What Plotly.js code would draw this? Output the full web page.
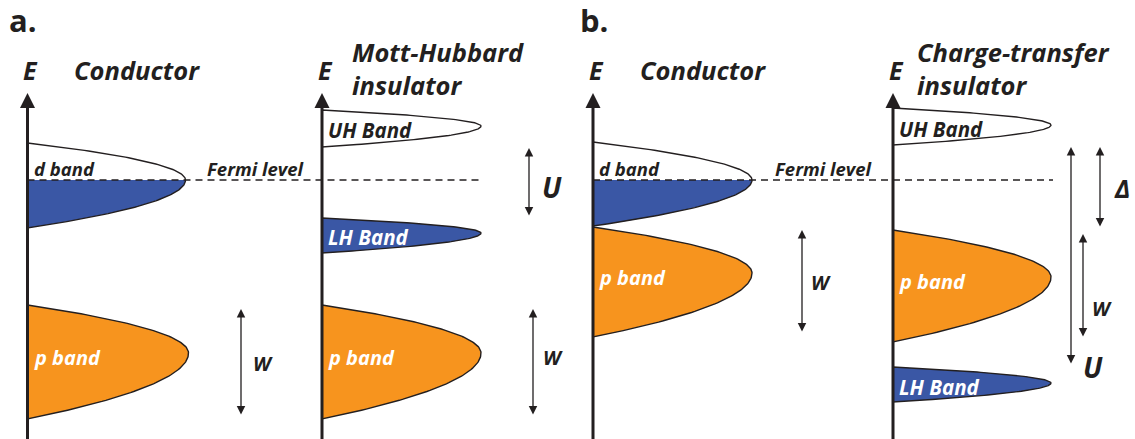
<!DOCTYPE html>
<html>
<head>
<meta charset="utf-8">
<script src="https://cdn.plot.ly/plotly-3.0.1.min.js"></script>
<style>html,body{margin:0;padding:0;background:#fff;}#chart{width:1135px;height:439px;}</style>
</head>
<body>
<div id="chart"></div>
<script>
// ---------- data (energy in arbitrary units, Fermi level = 0; width = density of states) ----------
const panelLetters = ['a.', 'b.'];
const columnTitles = ['Conductor', 'Mott-Hubbard<br>insulator', 'Conductor', 'Charge-transfer<br>insulator'];
const fermiLevel = 0;

const bandColumn = [0, 0, 1, 1, 1, 2, 2, 3, 3, 3];
const bandNames  = ['d band', 'p band', 'UH Band', 'LH Band', 'p band', 'd band', 'p band', 'UH Band', 'p band', 'LH Band'];
const bandTop    = [3.7, -12.5, 7.0, -3.8, -12.5, 3.8, -4.7, 7.2, -5.0, -18.7];
const bandPeak   = [0.0, -17.3, 5.4, -5.3, -17.3, 0.0, -9.3, 5.5, -9.7, -20.3];
const bandBottom = [-4.8, -23.9, 3.3, -7.3, -23.9, -4.6, -15.7, 3.5, -16.2, -22.2];
const bandWidth  = [15.8, 16.1, 15.9, 15.9, 15.9, 15.9, 15.9, 15.8, 15.8, 15.8];
const bandKind   = ['split', 'filled-p', 'empty', 'filled', 'filled-p', 'split', 'filled-p', 'empty', 'filled-p', 'filled'];

const gapColumn = [0, 1, 1, 2, 3, 3, 3];
const gapNames  = ['W', 'U', 'W', 'W', 'Δ', 'U', 'W'];
const gapTop    = [-12.9, 3.2, -12.9, -5.0, 3.3, 3.3, -5.4];
const gapBottom = [-23.6, -3.7, -23.6, -15.3, -4.8, -18.5, -15.8];

// ---------- layout constants (styles / placement) ----------
const columnX = [2.75, 32.2, 59.3, 89.3];
const titleDX = [4.4, 2.8, 4.5, 2.2];
const gapX    = [24.1, 52.9, 53.3, 80.2, 110.0, 107.1, 108.3];
const gapLabelDX = [2.2, 2.3, 2.0, 1.9, 2.2, 2.2, 1.9];
const gapLabelE  = [-18.3, -0.7, -17.7, -10.2, -0.8, -18.7, -12.8];
const gapLabelSize = [20, 28, 20, 20, 25, 28, 20];

const INK = '#231f20';
const BLUE = '#3a57a5';
const ORANGE = '#f7941e';
const FONT = '"Open Sans", "DejaVu Sans", sans-serif';

function halfCurve(peak, end, w, x0, n) {
  const xs = [], ys = [];
  for (let i = 0; i <= n; i++) {
    const s = i / n;
    xs.push(x0 + w * (1 - s * s));
    ys.push(peak + (end - peak) * s);
  }
  return {xs, ys};
}
function bandOutline(k) {
  const x0 = columnX[bandColumn[k]];
  const up = halfCurve(bandPeak[k], bandTop[k], bandWidth[k], x0, 60);
  const dn = halfCurve(bandPeak[k], bandBottom[k], bandWidth[k], x0, 60);
  const xs = up.xs.slice().reverse().concat(dn.xs.slice(1));
  const ys = up.ys.slice().reverse().concat(dn.ys.slice(1));
  return {xs, ys, x0};
}

const traces = [];
const annotations = [];

bandNames.forEach((name, k) => {
  const o = bandOutline(k);
  const kind = bandKind[k];
  let fill = '#ffffff';
  if (kind === 'filled') fill = BLUE;
  if (kind === 'filled-p') fill = ORANGE;
  if (kind === 'split') {
    const up = halfCurve(bandPeak[k], bandTop[k], bandWidth[k], o.x0, 60);
    traces.push({
      x: [o.x0].concat(up.xs).concat([o.x0]),
      y: [fermiLevel].concat(up.ys).concat([fermiLevel]),
      mode: 'lines', fill: 'toself', fillcolor: '#ffffff',
      line: {width: 0}, hoverinfo: 'skip', showlegend: false
    });
    const dn = halfCurve(bandPeak[k], bandBottom[k], bandWidth[k], o.x0, 60);
    traces.push({
      x: [o.x0].concat(dn.xs).concat([o.x0]),
      y: [fermiLevel].concat(dn.ys).concat([fermiLevel]),
      mode: 'lines', fill: 'toself', fillcolor: BLUE,
      line: {width: 0, color: BLUE}, hoverinfo: 'skip', showlegend: false
    });
  }
  traces.push({
    x: o.xs.concat([o.x0, o.xs[0]]),
    y: o.ys.concat([o.ys[o.ys.length - 1], o.ys[0]]),
    mode: 'lines', fill: kind === 'split' ? 'none' : 'toself', fillcolor: fill,
    line: {width: 1.4, color: INK}, hoverinfo: 'skip', showlegend: false
  });
  const white = kind === 'filled' || kind === 'filled-p';
  let size = 18.5;
  if (kind === 'filled-p') size = 20;
  if (kind === 'filled' || kind === 'empty') size = 20.5;
  annotations.push({
    x: o.x0 + 0.4, y: kind === 'split' ? fermiLevel + 1.2 : bandPeak[k] - 0.4,
    xref: 'x', yref: 'y', xanchor: 'left', yanchor: 'middle', showarrow: false,
    text: '<b><i>' + name + '</i></b>',
    font: {family: FONT, size: size, color: white ? '#ffffff' : INK}
  });
});

// Fermi level dashed lines (one per panel)
[[0, 1], [2, 3]].forEach((pair, p) => {
  const xEnd = columnX[pair[1]] + 16.0;
  traces.push({
    x: [columnX[pair[0]], xEnd], y: [fermiLevel, fermiLevel],
    mode: 'lines', line: {width: 1.3, color: INK, dash: '7px,5px'},
    hoverinfo: 'skip', showlegend: false
  });
  annotations.push({
    x: (columnX[pair[0]] + 15.8 + columnX[pair[1]]) / 2 + 0.2, y: fermiLevel + 1.2,
    xref: 'x', yref: 'y', xanchor: 'center', yanchor: 'middle', showarrow: false,
    text: '<b><i>Fermi level</i></b>', font: {family: FONT, size: 18.5, color: INK}
  });
  annotations.push({
    x: p === 0 ? 0.7 : 57.8, y: 16.0, xref: 'x', yref: 'y', xanchor: 'left', yanchor: 'middle',
    showarrow: false, text: '<b>' + panelLetters[p] + '</b>',
    font: {family: FONT, size: 31, color: INK}
  });
});

// energy axes with arrow heads, E labels and column titles
columnTitles.forEach((t, c) => {
  annotations.push({
    x: columnX[c], y: 8.7, ax: columnX[c], ay: -26.5,
    xref: 'x', yref: 'y', axref: 'x', ayref: 'y',
    showarrow: true, arrowhead: 2, arrowsize: 1.0, arrowwidth: 3, arrowcolor: INK, text: ''
  });
  annotations.push({
    x: columnX[c] + 0.3, y: 11.0, xref: 'x', yref: 'y', xanchor: 'center', yanchor: 'middle',
    showarrow: false, text: '<b><i>E</i></b>', font: {family: FONT, size: 25, color: INK}
  });
  const twoLines = t.indexOf('<br>') >= 0;
  annotations.push({
    x: columnX[c] + titleDX[c], y: twoLines ? 11.2 : 11.0, xref: 'x', yref: 'y',
    xanchor: 'left', yanchor: 'middle', align: 'left', showarrow: false,
    text: '<b><i>' + t + '</i></b>', font: {family: FONT, size: 25.5, color: INK}
  });
});

// double-headed gap arrows
gapNames.forEach((g, k) => {
  annotations.push({
    x: gapX[k], y: gapTop[k], ax: gapX[k], ay: gapBottom[k],
    xref: 'x', yref: 'y', axref: 'x', ayref: 'y',
    showarrow: true, arrowhead: 2, startarrowhead: 2, arrowside: 'end+start',
    arrowsize: 1.3, startarrowsize: 1.3, arrowwidth: 1.3, arrowcolor: INK, text: ''
  });
  annotations.push({
    x: gapX[k] + gapLabelDX[k], y: gapLabelE[k], xref: 'x', yref: 'y',
    xanchor: 'center', yanchor: 'middle', showarrow: false,
    text: '<b><i>' + g + '</i></b>', font: {family: FONT, size: gapLabelSize[k], color: INK}
  });
});

const layout = {
  width: 1135, height: 439,
  margin: {l: 0, r: 0, t: 0, b: 0},
  paper_bgcolor: '#ffffff', plot_bgcolor: '#ffffff',
  xaxis: {range: [0, 113.5], visible: false, fixedrange: true},
  yaxis: {range: [-25.9, 18.0], visible: false, fixedrange: true},
  showlegend: false,
  annotations: annotations
};

Plotly.newPlot('chart', traces, layout, {staticPlot: true, displayModeBar: false});
</script>
</body>
</html>
